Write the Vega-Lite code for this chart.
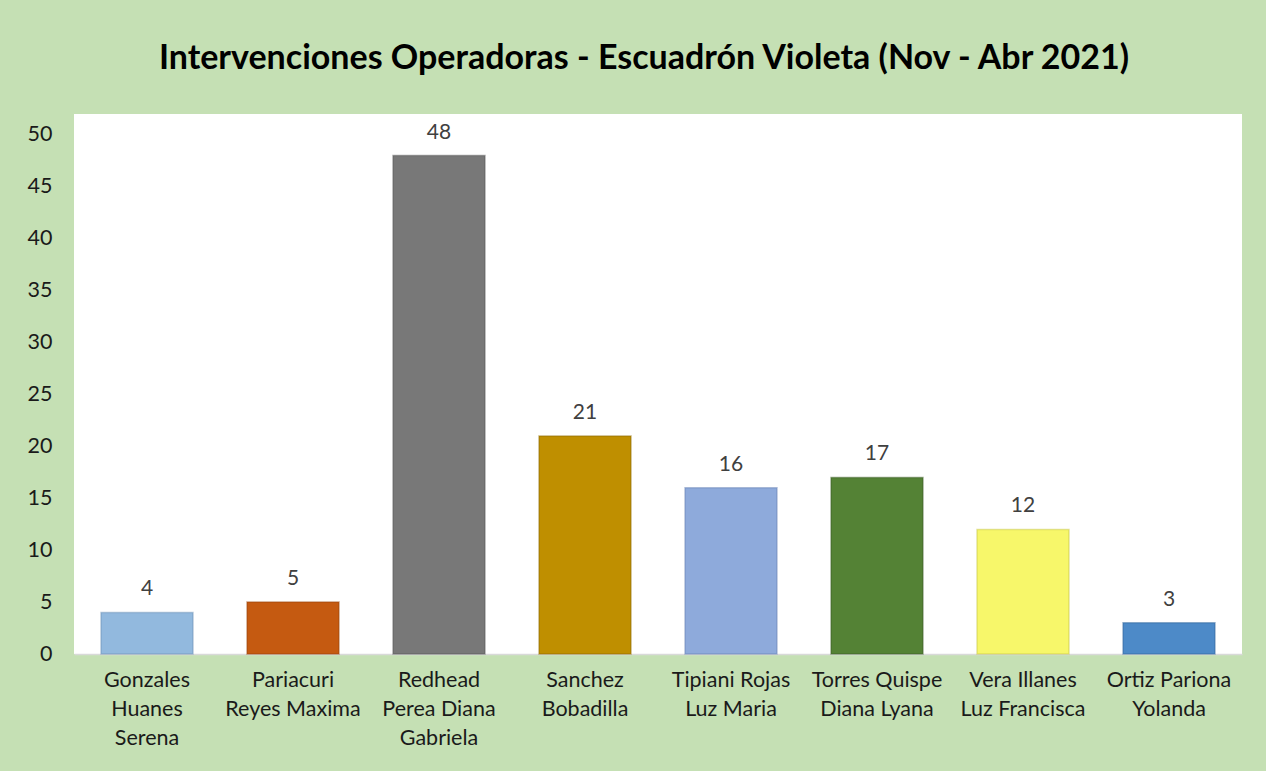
{
  "$schema": "https://vega.github.io/schema/vega-lite/v6.json",
  "width": 1168,
  "height": 540,
  "autosize": {"type": "none"},
  "padding": {"left": 74, "top": 114, "right": 24, "bottom": 117},
  "background": "#c5e0b4",
  "config": {
    "view": {"fill": "#ffffff", "stroke": null},
    "font": "Lato"
  },
  "title": {
    "text": "Intervenciones Operadoras - Escuadrón Violeta (Nov - Abr 2021)",
    "font": "Lato",
    "fontSize": 34,
    "fontWeight": "bold",
    "color": "#000000",
    "anchor": "middle",
    "dx": -14,
    "offset": 38
  },
  "data": {
    "values": [
      {"operadora": "Gonzales Huanes Serena", "intervenciones": 4},
      {"operadora": "Pariacuri Reyes Maxima", "intervenciones": 5},
      {"operadora": "Redhead Perea Diana Gabriela", "intervenciones": 48},
      {"operadora": "Sanchez Bobadilla", "intervenciones": 21},
      {"operadora": "Tipiani Rojas Luz Maria", "intervenciones": 16},
      {"operadora": "Torres Quispe Diana Lyana", "intervenciones": 17},
      {"operadora": "Vera Illanes Luz Francisca", "intervenciones": 12},
      {"operadora": "Ortiz Pariona Yolanda", "intervenciones": 3}
    ]
  },
  "encoding": {
    "x": {
      "field": "operadora",
      "type": "nominal",
      "sort": null,
      "scale": {"paddingInner": 0.37, "paddingOuter": 0.185},
      "axis": {
        "title": null,
        "labelAngle": 0,
        "labelFontSize": 21.5,
        "labelColor": "#1a1a1a",
        "labelPadding": 15,
        "labelBaseline": "top",
        "labelLineHeight": 29,
        "labelLimit": 200,
        "ticks": false,
        "domainColor": "#d9d9d9",
        "domainWidth": 1.5,
        "labelExpr": "datum.label == 'Gonzales Huanes Serena' ? ['Gonzales','Huanes','Serena'] : datum.label == 'Pariacuri Reyes Maxima' ? ['Pariacuri','Reyes Maxima'] : datum.label == 'Redhead Perea Diana Gabriela' ? ['Redhead','Perea Diana','Gabriela'] : datum.label == 'Sanchez Bobadilla' ? ['Sanchez','Bobadilla'] : datum.label == 'Tipiani Rojas Luz Maria' ? ['Tipiani Rojas','Luz Maria'] : datum.label == 'Torres Quispe Diana Lyana' ? ['Torres Quispe','Diana Lyana'] : datum.label == 'Vera Illanes Luz Francisca' ? ['Vera Illanes','Luz Francisca'] : ['Ortiz Pariona','Yolanda']"
      }
    },
    "y": {
      "field": "intervenciones",
      "type": "quantitative",
      "scale": {"domain": [0, 52], "nice": false},
      "axis": {
        "title": null,
        "values": [0, 5, 10, 15, 20, 25, 30, 35, 40, 45, 50],
        "grid": false,
        "ticks": false,
        "domain": false,
        "labelFontSize": 21.5,
        "labelColor": "#1a1a1a",
        "labelPadding": 22
      }
    }
  },
  "layer": [
    {
      "mark": {"type": "bar", "strokeWidth": 1.5, "strokeOpacity": 0.5},
      "encoding": {
        "color": {
          "field": "operadora",
          "type": "nominal",
          "sort": null,
          "legend": null,
          "scale": {
            "domain": ["Gonzales Huanes Serena", "Pariacuri Reyes Maxima", "Redhead Perea Diana Gabriela", "Sanchez Bobadilla", "Tipiani Rojas Luz Maria", "Torres Quispe Diana Lyana", "Vera Illanes Luz Francisca", "Ortiz Pariona Yolanda"],
            "range": ["#92b9de", "#c55a11", "#787878", "#bf8f00", "#8eaadb", "#548235", "#f7f76a", "#4d8ac8"]
          }
        },
        "stroke": {
          "field": "operadora",
          "type": "nominal",
          "sort": null,
          "legend": null,
          "scale": {
            "domain": ["Gonzales Huanes Serena", "Pariacuri Reyes Maxima", "Redhead Perea Diana Gabriela", "Sanchez Bobadilla", "Tipiani Rojas Luz Maria", "Torres Quispe Diana Lyana", "Vera Illanes Luz Francisca", "Ortiz Pariona Yolanda"],
            "range": ["#6f93b8", "#9a430c", "#5a5a5a", "#8f6b00", "#6a84b5", "#3c5e25", "#c8c84a", "#33679e"]
          }
        }
      }
    },
    {
      "mark": {"type": "text", "dy": -23, "fontSize": 21, "color": "#404040"},
      "encoding": {
        "text": {"field": "intervenciones", "type": "quantitative"}
      }
    }
  ]
}
